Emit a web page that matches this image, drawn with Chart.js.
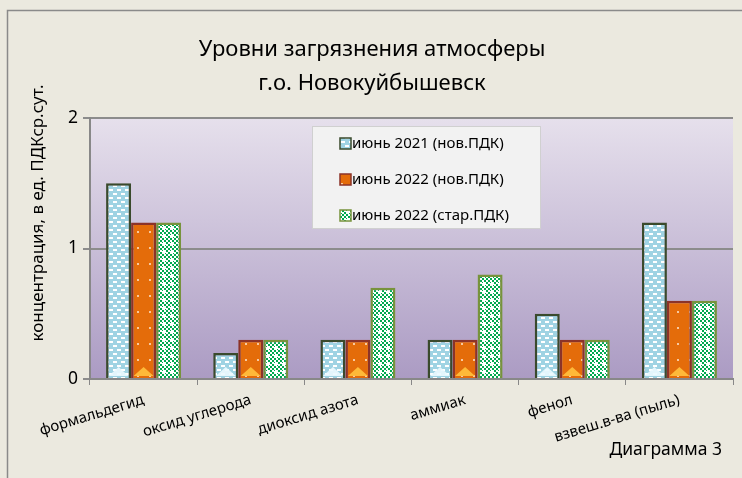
<!DOCTYPE html>
<html>
<head>
<meta charset="utf-8">
<script src="https://cdn.jsdelivr.net/npm/chart.js@4/dist/chart.umd.min.js"></script>
<style>
    body { margin: 0; background: #ebe9df; }
    canvas { display: block; }
</style>
</head>
<body>
<canvas id="myChart" width="742" height="478"></canvas>
<script>
const titleLines = ['Уровни загрязнения атмосферы', 'г.о. Новокуйбышевск'];
const yTitle = 'концентрация, в ед. ПДКср.сут.';
const footNote = 'Диаграмма 3';

const categories = ['формальдегид', 'оксид углерода', 'диоксид азота', 'аммиак', 'фенол', 'взвеш.в-ва (пыль)'];
const seriesLabels = ['июнь 2021 (нов.ПДК)', 'июнь 2022 (нов.ПДК)', 'июнь 2022 (стар.ПДК)'];
const june2021New = [1.5, 0.2, 0.3, 0.3, 0.5, 1.2];
const june2022New = [1.2, 0.3, 0.3, 0.3, 0.3, 0.6];
const june2022Old = [1.2, 0.3, 0.7, 0.8, 0.3, 0.6];

const FONT = 'Noto Sans';

function makePattern(draw, w, h) {
    const c = document.createElement('canvas');
    c.width = w;
    c.height = h;
    draw(c.getContext('2d'));
    return document.getElementById('myChart').getContext('2d').createPattern(c, 'repeat');
}

// light blue with small white dashes
const bluePattern = makePattern(ctx => {
    ctx.fillStyle = '#9fd3e3';
    ctx.fillRect(0, 0, 8, 8);
    ctx.fillStyle = '#ffffff';
    ctx.fillRect(1, 1, 4, 2);
    ctx.fillRect(5, 5, 3, 2);
    ctx.fillRect(0, 5, 1, 2);
}, 8, 8);

// orange with sparse white dots
const orangePattern = makePattern(ctx => {
    ctx.fillStyle = '#e46c0a';
    ctx.fillRect(0, 0, 12, 16);
    ctx.fillStyle = '#f7c9a0';
    ctx.fillRect(5, 7, 2, 2);
}, 12, 16);

// green checker with white crosses
const greenPattern = makePattern(ctx => {
    ctx.fillStyle = '#ffffff';
    ctx.fillRect(0, 0, 8, 8);
    ctx.fillStyle = '#00a94f';
    for (let y = 0; y < 8; y += 2) {
        for (let x = 0; x < 8; x += 2) {
            if (((x + y) / 2) % 2 === 0) ctx.fillRect(x, y, 2, 2);
        }
    }
    ctx.fillStyle = '#ffffff';
    ctx.fillRect(3, 2, 2, 4);
    ctx.fillRect(2, 3, 4, 2);
}, 8, 8);

const decor = {
    id: 'decor',
    beforeDraw(chart) {
        const ctx = chart.ctx;
        const a = chart.chartArea;
        ctx.save();
        ctx.fillStyle = '#ebe9df';
        ctx.fillRect(0, 0, chart.width, chart.height);
        ctx.strokeStyle = '#8a8a8a';
        ctx.lineWidth = 1.5;
        ctx.beginPath();
        ctx.moveTo(7.5, chart.height);
        ctx.lineTo(7.5, 10.5);
        ctx.lineTo(chart.width, 10.5);
        ctx.stroke();

        const g = ctx.createLinearGradient(0, a.top, 0, a.bottom);
        g.addColorStop(0, '#e6e0ec');
        g.addColorStop(1, '#ab9bc3');
        ctx.fillStyle = g;
        ctx.fillRect(a.left, a.top, a.right - a.left, a.bottom - a.top);
        ctx.restore();
    },
    afterDatasetsDraw(chart) {
        // little bevel highlights at the foot of the blue and orange bars
        const ctx = chart.ctx;
        const tints = ['rgba(235,250,255,0.9)', 'rgba(255,190,60,0.95)'];
        ctx.save();
        [0, 1].forEach(i => {
            chart.getDatasetMeta(i).data.forEach(bar => {
                const w = bar.width - 5;
                const x = bar.x;
                const b = bar.base - 2;
                ctx.fillStyle = tints[i];
                ctx.beginPath();
                ctx.moveTo(x - w / 2, b);
                ctx.lineTo(x, b - Math.min(10, w / 2.2));
                ctx.lineTo(x + w / 2, b);
                ctx.closePath();
                ctx.fill();
            });
        });
        ctx.restore();
    },
    afterDraw(chart) {
        const ctx = chart.ctx;
        ctx.save();
        ctx.fillStyle = '#000';
        ctx.textAlign = 'center';
        ctx.textBaseline = 'middle';
        ctx.font = '22px "' + FONT + '"';
        ctx.fillText(titleLines[0], 372, 50);
        ctx.fillText(titleLines[1], 372, 84);

        ctx.font = '17.5px "' + FONT + '"';
        ctx.textAlign = 'right';
        ctx.fillText(footNote, 722, 450);

        ctx.save();
        ctx.translate(38, 213);
        ctx.rotate(-Math.PI / 2);
        ctx.textAlign = 'center';
        ctx.font = '17px "' + FONT + '"';
        ctx.fillText(yTitle, 0, 0);
        ctx.restore();

        // legend box
        ctx.fillStyle = '#f2f2f2';
        ctx.fillRect(312, 126, 228, 102);
        ctx.strokeStyle = '#d0d0d0';
        ctx.lineWidth = 1;
        ctx.strokeRect(312.5, 126.5, 228, 102);

        ctx.font = '15px "' + FONT + '"';
        ctx.textAlign = 'left';
        chart.data.datasets.forEach((ds, i) => {
            const y = 144 + i * 36;
            ctx.fillStyle = ds.backgroundColor;
            ctx.fillRect(340, y - 6, 11, 11);
            ctx.strokeStyle = ds.borderColor;
            ctx.lineWidth = 1.5;
            ctx.strokeRect(340, y - 6, 11, 11);
            ctx.fillStyle = '#000';
            ctx.fillText(ds.label, 352, y);
        });
        ctx.restore();
    }
};

function draftChart() {
    const datasets = [
        { label: seriesLabels[0], data: june2021New, backgroundColor: bluePattern, borderColor: '#3a4a2c' },
        { label: seriesLabels[1], data: june2022New, backgroundColor: orangePattern, borderColor: '#8c3328' },
        { label: seriesLabels[2], data: june2022Old, backgroundColor: greenPattern, borderColor: '#77933c' }
    ];
    datasets.forEach(ds => {
        ds.borderWidth = 2.5;
        ds.barPercentage = 1;
        ds.categoryPercentage = 0.7;
    });

    Chart.defaults.animation = false;
    Chart.defaults.font.family = FONT;
    Chart.defaults.color = '#000';

    new Chart(document.getElementById('myChart'), {
        type: 'bar',
        data: { labels: categories, datasets: datasets },
        options: {
            responsive: false,
            layout: { padding: { top: 118, right: 9, left: 0, bottom: 0 } },
            plugins: {
                legend: { display: false },
                title: { display: false },
                tooltip: { enabled: false }
            },
            scales: {
                x: {
                    afterFit(s) { s.height = 99; },
                    grid: { display: true, drawOnChartArea: false, color: '#888', tickLength: 6, offset: true },
                    border: { color: '#888', width: 2 },
                    ticks: {
                        autoSkip: false,
                        minRotation: 17,
                        maxRotation: 17,
                        padding: 6,
                        font: { size: 15 }
                    }
                },
                y: {
                    min: 0,
                    max: 2,
                    afterFit(s) { s.width = 90; },
                    grid: { color: '#8c8c8c', lineWidth: 2, tickLength: 7 },
                    border: { color: '#888', width: 2 },
                    ticks: { stepSize: 1, padding: 5, font: { size: 17.5 } }
                }
            }
        },
        plugins: [decor]
    });
}

draftChart();
</script>
</body>
</html>
